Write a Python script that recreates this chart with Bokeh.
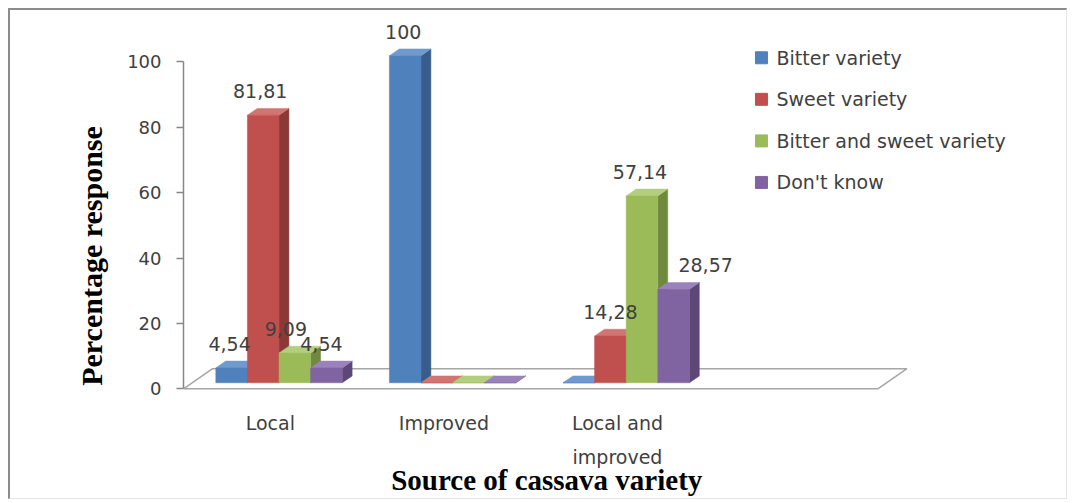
from bokeh.plotting import figure
from bokeh.models import FixedTicker
from bokeh.core.properties import value
from bokeh.embed import file_html
from bokeh.resources import INLINE

# ---- data -------------------------------------------------------------
categories = ["Local", "Improved", "Local and improved"]
series_names = ["Bitter variety", "Sweet variety", "Bitter and sweet variety", "Don't know"]
bitter_variety = [4.54, 100.0, 0.0]
sweet_variety = [81.81, 0.0, 14.28]
bitter_and_sweet = [9.09, 0.0, 57.14]
dont_know = [4.54, 0.0, 28.57]
y_ticks = [0, 20, 40, 60, 80, 100]

series_values = [bitter_variety, sweet_variety, bitter_and_sweet, dont_know]

# ---- style ------------------------------------------------------------
front_colors = ["#4F81BD", "#C0504D", "#9BBB59", "#8064A2"]
side_colors = ["#385D8A", "#8C3836", "#71893F", "#5C4776"]
top_colors = ["#7099CF", "#D27471", "#B3CE7E", "#9A83BA"]
SANS = "DejaVu Sans"
SERIF = "Liberation Serif"
TXT = "#404040"

# page geometry: the chart sits inside a thin frame drawn with CSS borders
MARGIN = 8
BORDER = 2
ORIGIN = MARGIN + BORDER + 1  # page offset of the canvas
W = 1067 - ORIGIN             # canvas width
H = 499 - ORIGIN              # canvas height
LEFT = 184 - ORIGIN           # width of the left border panel (px)
PX_X = 173.0                  # pixels per category step
PX_Y = 3.25                   # pixels per percentage point
ZERO_ROW = 387 - ORIGIN       # canvas row of the zero line

x_start = 0.5
x_end = x_start + (W - LEFT) / PX_X
y_end = ZERO_ROW / PX_Y
y_start = -(H - ZERO_ROW) / PX_Y

# pseudo-3D depth vector (floor depth) in data units
DX = 29 / PX_X
DY = 20 / PX_Y
Z_FRONT, Z_BACK = 0.30, 0.64     # depth slice occupied by the bars
BAR_W = 31.5 / PX_X

p = figure(width=W, height=H, output_backend="svg", toolbar_location=None,
           x_range=(x_start, x_end), y_range=(y_start, y_end),
           x_axis_location=None, y_axis_location="left",
           min_border_left=LEFT, min_border_right=0,
           min_border_top=0, min_border_bottom=0)
p.styles = {
    "margin-left": f"{MARGIN}px",
    "margin-top": f"{MARGIN}px",
    "border-left": f"{BORDER}px solid #8c8c8c",
    "border-top": f"{BORDER}px solid #8c8c8c",
    "border-right": "1px solid #e4e4e4",
    "border-bottom": "1px solid #e4e4e4",
    "box-sizing": "content-box",
}
p.grid.visible = False
p.outline_line_color = None
p.background_fill_color = "white"
p.border_fill_color = "white"

# ---- y axis -----------------------------------------------------------
ax = p.yaxis[0]
ax.ticker = FixedTicker(ticks=y_ticks)
ax.bounds = (0, 100)
ax.axis_line_color = "#868686"
ax.axis_line_width = 1.5
ax.major_tick_line_color = "#868686"
ax.major_tick_line_width = 1.5
ax.major_tick_out = 7
ax.major_tick_in = 0
ax.minor_tick_line_color = None
ax.major_label_standoff = 15
ax.major_label_text_font = SANS
ax.major_label_text_font_size = "18px"
ax.major_label_text_color = TXT
ax.axis_label = "Percentage response"
ax.axis_label_text_font = SERIF
ax.axis_label_text_font_style = "bold"
ax.axis_label_text_font_size = "30px"
ax.axis_label_text_color = "black"
ax.axis_label_standoff = 16

# ---- floor --------------------------------------------------------------
n_cat = len(categories)
floor_x = [x_start, x_start + n_cat + 1, x_start + n_cat + 1 + DX, x_start + DX]
floor_y = [0, 0, DY, DY]
p.patch(floor_x, floor_y, fill_color="white", line_color="#a6a6a6", line_width=1.5)

# ---- bars (side, top, front per bar, drawn left to right) ---------------
xs, ys, fills = [], [], []
fx, fy = Z_FRONT * DX, Z_FRONT * DY
bx, by = Z_BACK * DX, Z_BACK * DY
n_ser = len(series_values)
for ci in range(n_cat):
    c = ci + 1
    for k in range(n_ser):
        v = series_values[k][ci]
        xl = c + (k - n_ser / 2) * BAR_W
        xr = xl + BAR_W
        # side face
        xs.append([xr + fx, xr + bx, xr + bx, xr + fx])
        ys.append([fy, by, v + by, v + fy])
        fills.append(side_colors[k])
        # top face
        xs.append([xl + fx, xr + fx, xr + bx, xl + bx])
        ys.append([v + fy, v + fy, v + by, v + by])
        fills.append(top_colors[k])
        # front face
        xs.append([xl + fx, xr + fx, xr + fx, xl + fx])
        ys.append([fy, fy, v + fy, v + fy])
        fills.append(front_colors[k])
p.patches(xs, ys, fill_color=fills, line_color=fills, line_width=0.5)

# ---- value labels -------------------------------------------------------
def fmt(v):
    if v == int(v):
        return str(int(v))
    return f"{v:.2f}".replace(".", ",")

label_nudge = [[-2, -2, 0], [-3, 0, 0], [-9, 0, -2], [-5, 0, 32]]
lx, ly, lt, lo = [], [], [], []
gap = 24 / PX_Y
for ci in range(n_cat):
    c = ci + 1
    for k in range(n_ser):
        v = series_values[k][ci]
        if v == 0:
            continue
        xl = c + (k - n_ser / 2) * BAR_W
        lx.append(xl + BAR_W / 2 + fx)
        ly.append(v + fy + gap)
        lt.append(fmt(v))
        lo.append(label_nudge[k][ci])
p.text(x=lx, y=ly, text=lt, x_offset=lo, text_align="center", text_baseline="middle",
       text_font=value(SANS), text_font_size="19px", text_color=TXT)

# ---- category labels and x title -------------------------------------------
cat_text = [name.replace("Local and ", "Local and\n") for name in categories]
p.text(x=[i + 1 for i in range(n_cat)], y=[-23 / PX_Y] * n_cat, text=cat_text,
       text_align="center", text_baseline="top", text_line_height=1.55,
       text_font=value(SANS), text_font_size="19px", text_color=TXT)
p.text(x=[x_start + 362 / PX_X], y=[-91 / PX_Y], text=["Source of cassava variety"],
       text_align="center", text_baseline="middle",
       text_font=value(SERIF), text_font_style="bold", text_font_size="29px", text_color="black")

# ---- legend -------------------------------------------------------------
leg_x = x_start + 576 / PX_X
leg_y = [(ZERO_ROW - (58 - ORIGIN) - 41.3 * i) / PX_Y for i in range(n_ser)]
p.scatter(x=[leg_x] * n_ser, y=leg_y, marker="square", size=12,
          fill_color=front_colors, line_color=front_colors)
p.text(x=[leg_x + 15 / PX_X] * n_ser, y=leg_y, text=series_names,
       text_align="left", text_baseline="middle",
       text_font=value(SANS), text_font_size="19px", text_color=TXT)

open("out.html", "w").write(file_html(p, INLINE))
